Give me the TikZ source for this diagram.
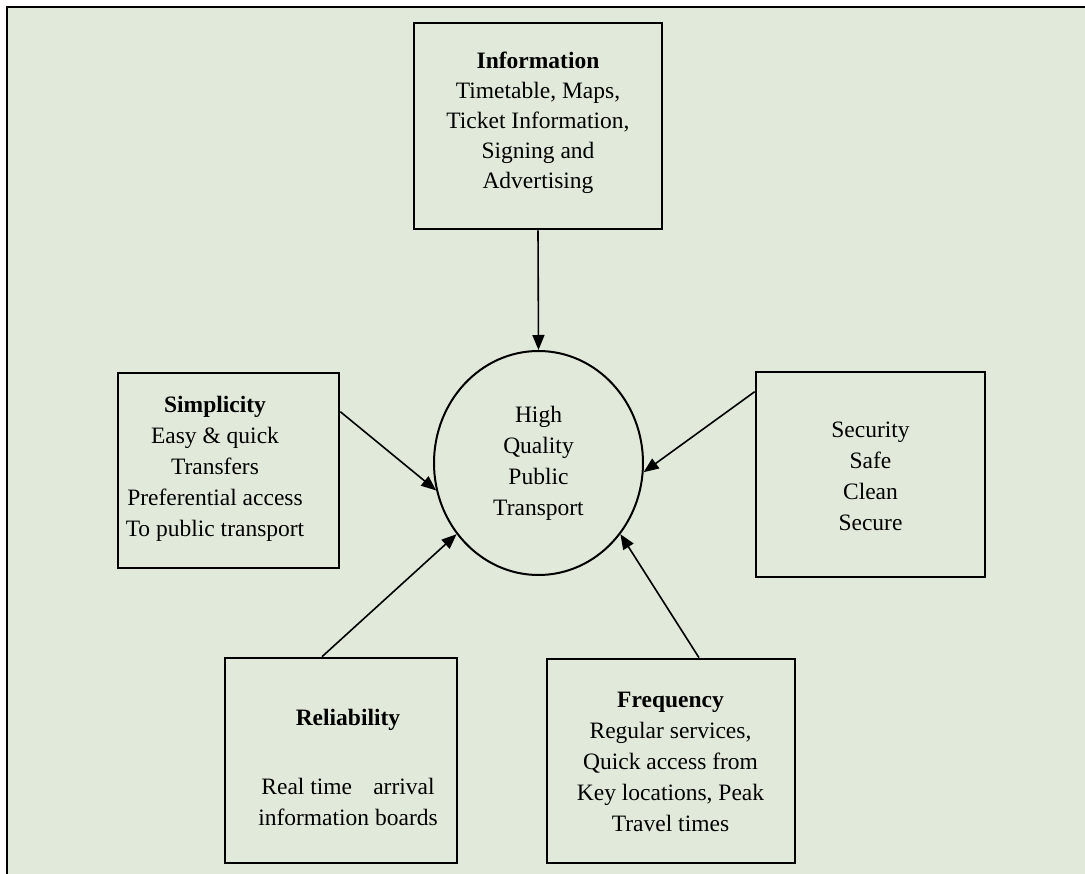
\documentclass[tikz,border=0pt]{standalone}
\usepackage{fontspec}
\setmainfont{Liberation Serif}
\usetikzlibrary{arrows.meta,calc,shapes.geometric}
\definecolor{bgc}{RGB}{225,234,218}
\begin{document}
\begin{tikzpicture}[x=1pt,y=-1pt,
  box/.style={draw, line width=2.6pt, rectangle, inner sep=0pt},
  txt/.style={align=center, font=\fontsize{23.5}{31}\selectfont, inner sep=0pt},
  arr/.style={line width=1.6pt, -{Triangle[length=15pt,width=12pt]}}]
\useasboundingbox (0,0) rectangle (1085,874);
\fill[bgc] (7,7) rectangle (1085,874);
\draw[line width=2.6pt] (7,874) -- (7,7) -- (1085,7);

% central ellipse
\node[draw, ellipse, line width=2pt, minimum width=209pt, minimum height=224pt, txt] (hq) at (538.5,463) {High\\Quality\\Public\\Transport};

% boxes
\node[box, minimum width=248pt, minimum height=206pt] (info) at (538,126) {};
\node[box, minimum width=221pt, minimum height=195pt] (simp) at (228.5,470.5) {};
\node[box, minimum width=229pt, minimum height=205pt] (sec) at (870.5,474.5) {};
\node[box, minimum width=232pt, minimum height=205pt] (rel) at (341,760.5) {};
\node[box, minimum width=248pt, minimum height=204pt] (freq) at (671,761) {};

% texts
\node[txt, font=\fontsize{23.5}{30}\selectfont] (infot) at (538,123) {\textbf{Information}\\Timetable, Maps,\\Ticket Information,\\Signing and\\Advertising};
\node[txt] (simpt) at (215,469) {\textbf{Simplicity}\\Easy \& quick\\Transfers\\Preferential access\\To public transport};
\node[txt] (sect) at (870.5,476) {Security\\Safe\\Clean\\Secure};
\node[txt] (relt) at (348,767.5) {\textbf{Reliability}\\[38pt]Real time\hspace*{0.65em} arrival\\information boards};
\node[txt] (freqt) at (670.5,762) {\textbf{Frequency}\\Regular services,\\Quick access from\\Key locations, Peak\\Travel times};

% connectors
\draw[arr] (info.south) -- (hq.90);
\draw[arr] ($(simp.north east)+(0,40)$) -- (hq.195.9);
\draw[arr] ($(sec.north west)+(0,21)$) -- (hq.355.1);
\draw[arr] ($(rel.north)+(-19,0)$) -- (hq.221.3);
\draw[arr] ($(freq.north)+(28,0)$) -- (hq.319.7);
\end{tikzpicture}
\end{document}
